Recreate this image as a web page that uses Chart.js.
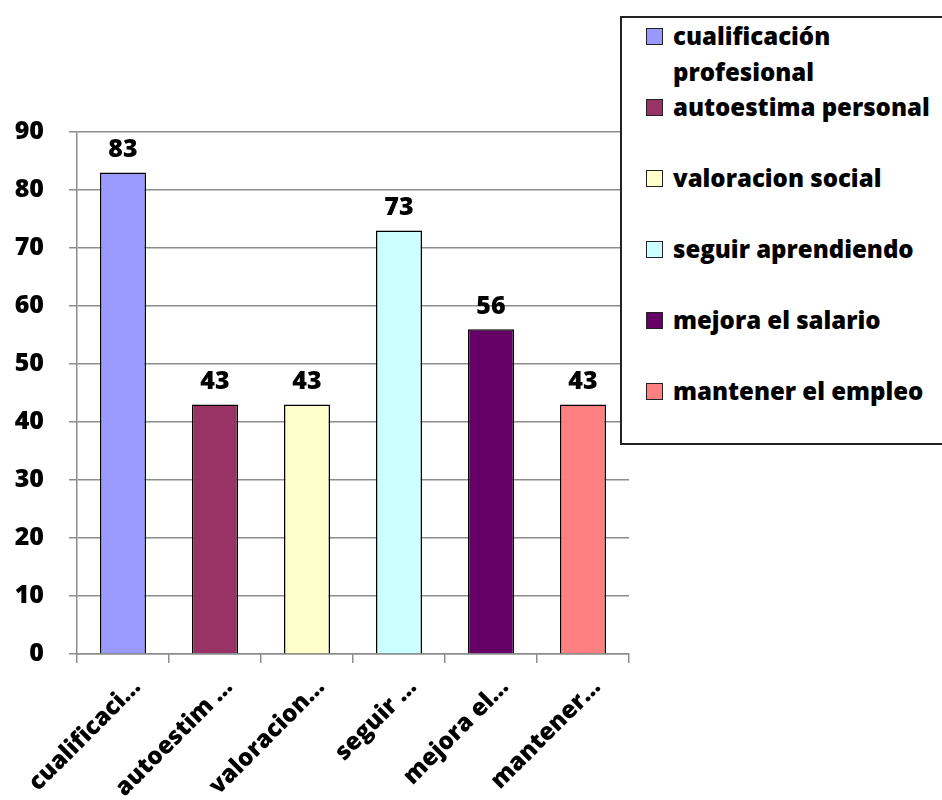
<!DOCTYPE html>
<html>
<head>
<meta charset="utf-8">
<script src="https://cdn.jsdelivr.net/npm/chart.js@4/dist/chart.umd.min.js"></script>
<style>
  body { margin: 0; background: #fff; }
  #wrap { position: relative; width: 942px; height: 800px; }
  #legend {
    position: absolute; left: 620px; top: 16px; width: 330px; height: 425px;
    border: 2px solid #222; background: #fff; font-family: 'Open Sans', sans-serif;
    font-weight: 800; font-size: 24px; color: #000;
  }
  .item { position: absolute; left: 0; }
  .box { position: absolute; left: 24px; width: 15px; height: 15px; border: 1px solid #222; }
  .txt { position: absolute; left: 51px; line-height: 36px; white-space: nowrap; }
</style>
</head>
<body>
<div id="wrap">
  <canvas id="myChart" width="942" height="800"></canvas>
  <div id="legend"></div>
</div>
<script>
'use strict';

// data
var categories = ['cualificación profesional', 'autoestima personal', 'valoracion social',
                  'seguir aprendiendo', 'mejora el salario', 'mantener el empleo'];
var tickLabels = ['cualificaci…', 'autoestim …', 'valoracion…', 'seguir …', 'mejora el…', 'mantener…'];
var values = [83, 43, 43, 73, 56, 43];
var barColors = ['#9999FF', '#993366', '#FFFFCC', '#CCFFFF', '#660066', '#FF8080'];
var yMax = 90, yStep = 10;

Chart.defaults.font.family = "'Open Sans', sans-serif";
var gridColor = '#8c8c8c';
var numFont = { size: 25, weight: 800 };
var catFont = { size: 24, weight: 800 };

// value labels above the bars
var valueLabels = {
  id: 'valueLabels',
  afterDatasetsDraw: function (chart) {
    var ctx = chart.ctx;
    var meta = chart.getDatasetMeta(0);
    ctx.save();
    ctx.font = "800 25px 'Open Sans', sans-serif";
    ctx.fillStyle = '#000';
    ctx.textAlign = 'center';
    ctx.textBaseline = 'bottom';
    meta.data.forEach(function (bar, i) {
      ctx.fillText(String(values[i]), bar.x, bar.y - 10);
    });
    ctx.restore();
  }
};

var ctx = document.getElementById('myChart').getContext('2d');
var myChart = new Chart(ctx, {
  type: 'bar',
  data: {
    labels: tickLabels,
    datasets: [{
      label: 'valores',
      data: values,
      backgroundColor: barColors,
      borderColor: '#000',
      borderWidth: 1.5,
      categoryPercentage: 1,
      barPercentage: 0.5
    }]
  },
  options: {
    responsive: false,
    animation: false,
    layout: { padding: { top: 132, right: 313, left: 0, bottom: 0 } },
    plugins: {
      legend: { display: false },
      tooltip: { enabled: false }
    },
    scales: {
      x: {
        offset: true,
        grid: { offset: true, drawOnChartArea: false, tickLength: 9, color: gridColor, lineWidth: 1.5 },
        border: { color: gridColor, width: 1.5 },
        ticks: { minRotation: 45, maxRotation: 45, color: '#000', font: catFont, padding: 10, labelOffset: 14 },
        afterFit: function (scale) {
          scale.height = 146;
          scale.paddingLeft = 0;
          scale.paddingRight = 0;
        }
      },
      y: {
        min: 0,
        max: yMax,
        ticks: { stepSize: yStep, color: '#000', font: numFont, padding: 25 },
        grid: { color: gridColor, lineWidth: 1.5, tickLength: 8 },
        border: { color: gridColor, width: 1.5 },
        afterFit: function (scale) {
          scale.width = 77;
        }
      }
    }
  },
  plugins: [valueLabels]
});

// legend built from the same arrays
var legend = document.getElementById('legend');
categories.forEach(function (name, i) {
  var top = i === 0 ? 0 : 71 + (i - 1) * 71;
  var item = document.createElement('div');
  item.className = 'item';
  item.style.top = top + 'px';
  var box = document.createElement('div');
  box.className = 'box';
  box.style.top = '10px';
  box.style.background = barColors[i];
  var txt = document.createElement('div');
  txt.className = 'txt';
  txt.innerHTML = i === 0 ? 'cualificación<br>profesional' : name;
  item.appendChild(box);
  item.appendChild(txt);
  legend.appendChild(item);
});
</script>
</body>
</html>
